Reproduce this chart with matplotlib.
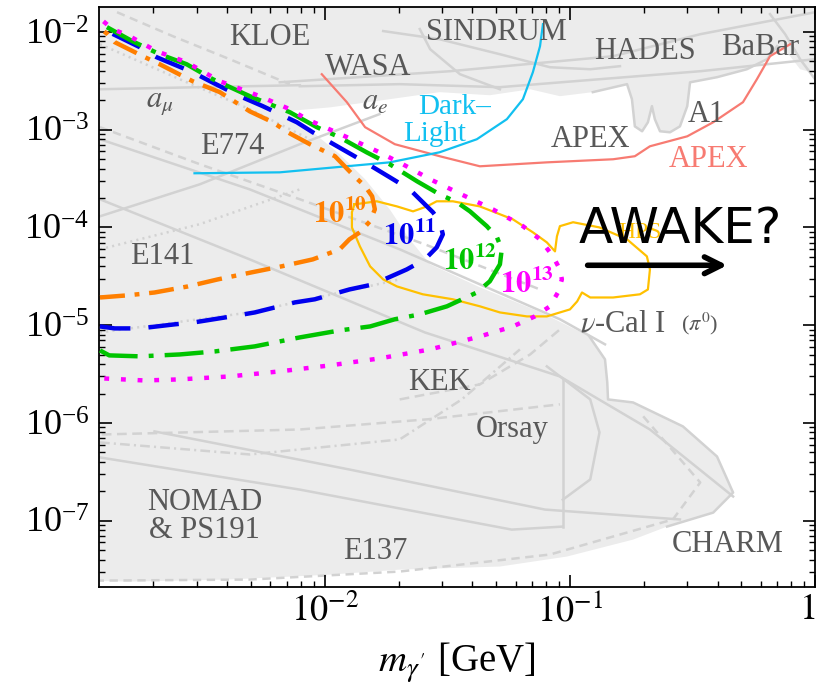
import numpy as np
import matplotlib.pyplot as plt
from matplotlib.ticker import NullFormatter

plt.rcParams['font.family'] = ['Liberation Serif', 'DejaVu Serif']
plt.rcParams['mathtext.fontset'] = 'stix'
plt.rcParams['lines.scale_dashes'] = False

# AWAKE reach, dark photon mass [GeV] vs eps^2, for 1e10..1e13 electrons
m_e10 = [1.21e-3, 1.57e-3, 2.02e-3, 2.76e-3, 3.66e-3, 5.03e-3, 6.67e-3, 8.93e-3, 1.15e-2, 1.26e-2,
         1.39e-2, 1.53e-2, 1.60e-2, 1.56e-2, 1.46e-2, 1.32e-2, 1.10e-2, 8.69e-3, 7.06e-3, 6.14e-3,
         4.94e-3, 3.73e-3, 2.89e-3, 2.12e-3, 1.81e-3, 1.39e-3, 1.30e-3, 1.24e-3]
eps_e10 = [1.92e-5, 2.02e-5, 2.16e-5, 2.49e-5, 2.94e-5, 3.47e-5, 4.00e-5, 4.71e-5, 5.97e-5, 7.55e-5,
           8.91e-5, 1.16e-4, 1.53e-4, 2.08e-4, 2.64e-4, 3.33e-4, 5.35e-4, 7.10e-4, 9.40e-4, 1.19e-3,
           1.54e-3, 2.42e-3, 3.13e-3, 4.67e-3, 5.64e-3, 7.85e-3, 9.47e-3, 1.04e-2]

m_e11 = [1.21e-3, 1.39e-3, 1.76e-3, 2.44e-3, 2.94e-3, 4.17e-3, 5.18e-3, 7.55e-3, 9.10e-3, 1.26e-2,
         1.57e-2, 2.16e-2, 2.56e-2, 2.86e-2, 3.03e-2, 2.94e-2, 2.76e-2, 2.22e-2, 1.84e-2, 1.39e-2,
         1.18e-2, 8.93e-3, 7.69e-3, 5.58e-3, 4.50e-3, 3.40e-3, 2.89e-3, 2.06e-3, 1.76e-3, 1.29e-3]
eps_e11 = [9.71e-6, 9.27e-6, 9.27e-6, 1.02e-5, 1.07e-5, 1.23e-5, 1.35e-5, 1.71e-5, 1.84e-5, 2.32e-5,
           2.61e-5, 3.72e-5, 4.71e-5, 6.25e-5, 8.49e-5, 1.16e-4, 1.43e-4, 2.45e-4, 3.26e-4, 4.98e-4,
           6.30e-4, 9.40e-4, 1.19e-3, 1.74e-3, 2.20e-3, 3.13e-3, 3.87e-3, 5.51e-3, 6.97e-3, 1.02e-2]

m_e12 = [1.21e-3, 1.32e-3, 1.76e-3, 2.56e-3, 3.56e-3, 5.18e-3, 7.91e-3, 1.15e-2, 1.53e-2, 1.93e-2,
         2.44e-2, 3.15e-2, 4.17e-2, 4.71e-2, 5.18e-2, 5.27e-2, 5.04e-2, 4.58e-2, 3.91e-2, 3.46e-2,
         2.94e-2, 2.38e-2, 1.84e-2, 1.48e-2, 1.15e-2, 9.28e-3, 7.19e-3, 4.94e-3, 3.49e-3, 2.73e-3,
         2.12e-3, 1.64e-3, 1.29e-3]
eps_e12 = [5.52e-6, 4.91e-6, 4.80e-6, 5.02e-6, 5.39e-6, 6.07e-6, 7.50e-6, 8.84e-6, 9.71e-6, 1.15e-5,
           1.29e-5, 1.56e-5, 2.16e-5, 2.81e-5, 4.19e-5, 5.97e-5, 7.92e-5, 1.03e-4, 1.46e-4, 1.81e-4,
           2.18e-4, 2.96e-4, 4.43e-4, 5.87e-4, 8.35e-4, 1.06e-3, 1.51e-3, 2.20e-3, 3.28e-3, 4.67e-3,
           5.91e-3, 8.03e-3, 1.12e-2]

m_e13 = [1.26e-3, 1.84e-3, 2.56e-3, 4.09e-3, 6.55e-3, 1.05e-2, 1.67e-2, 2.69e-2, 4.29e-2, 5.85e-2,
         7.19e-2, 8.29e-2, 8.93e-2, 9.27e-2, 9.10e-2, 8.53e-2, 7.55e-2, 6.43e-2, 4.85e-2, 3.46e-2,
         2.69e-2, 2.08e-2, 1.67e-2, 1.21e-2, 8.45e-3, 7.19e-3, 5.43e-3, 3.73e-3, 2.73e-3, 2.06e-3,
         1.60e-3, 1.36e-3, 1.22e-3]
eps_e13 = [2.85e-6, 2.72e-6, 2.79e-6, 2.99e-6, 3.37e-6, 3.88e-6, 4.57e-6, 5.65e-6, 7.67e-6, 9.71e-6,
           1.23e-5, 1.56e-5, 2.16e-5, 2.94e-5, 3.72e-5, 5.06e-5, 7.55e-5, 1.03e-4, 1.53e-4, 2.29e-4,
           3.11e-4, 4.43e-4, 5.87e-4, 8.55e-4, 1.28e-3, 1.62e-3, 2.20e-3, 3.13e-3, 4.90e-3, 6.34e-3,
           9.03e-3, 1.07e-2, 1.35e-2]

# future experiments
m_apex = [9.72e-3, 1.23e-2, 1.46e-2, 1.93e-2, 2.94e-2, 4.29e-2, 8.05e-2, 0.150, 0.184, 0.212,
          0.301, 0.384, 0.508, 0.579, 0.655, 0.791]
eps_apex = [3.69e-3, 1.91e-3, 1.06e-3, 7.10e-4, 5.35e-4, 4.22e-4, 4.63e-4, 4.98e-4, 5.35e-4, 6.76e-4,
            8.55e-4, 1.19e-3, 1.91e-3, 3.28e-3, 5.64e-3, 7.48e-3]

m_dl = [2.94e-3, 6.55e-3, 1.84e-2, 2.94e-2, 4.17e-2, 5.53e-2, 6.43e-2, 7.06e-2, 7.55e-2, 7.76e-2]
eps_dl = [3.58e-4, 3.66e-4, 4.63e-4, 5.87e-4, 7.98e-4, 1.28e-3, 2.05e-3, 3.87e-3, 7.14e-3, 1.20e-2]

m_hps = [1.32e-2, 1.63e-2, 1.97e-2, 2.29e-2, 2.61e-2, 2.86e-2, 3.33e-2, 4.29e-2, 5.85e-2, 7.06e-2,
         8.05e-2, 8.69e-2, 8.85e-2, 9.10e-2, 0.103, 0.132, 0.171, 0.206, 0.212, 0.208,
         0.193, 0.150, 0.121, 0.112, 0.107, 0.100, 8.05e-2, 6.67e-2, 5.18e-2, 4.29e-2,
         3.33e-2, 2.51e-2, 1.97e-2, 1.73e-2, 1.53e-2, 1.39e-2, 1.29e-2, 1.29e-2, 1.32e-2]
eps_hps = [1.72e-4, 1.85e-4, 1.64e-4, 1.46e-4, 1.64e-4, 1.85e-4, 1.85e-4, 1.64e-4, 1.21e-4, 8.91e-5,
           7.03e-5, 5.69e-5, 8.11e-5, 1.03e-4, 1.13e-4, 1.00e-4, 7.55e-5, 5.06e-5, 3.72e-5, 2.32e-5,
           2.07e-5, 1.92e-5, 1.92e-5, 2.16e-5, 1.75e-5, 1.45e-5, 1.23e-5, 1.23e-5, 1.35e-5, 1.56e-5,
           1.84e-5, 2.07e-5, 2.49e-5, 2.94e-5, 4.00e-5, 6.41e-5, 1.00e-4, 1.43e-4, 1.72e-4]

# region not yet excluded (everything else is grey)
m_open = [6.87e-3, 1.05e-2, 1.84e-2, 2.94e-2, 4.71e-2, 6.88e-2, 9.10e-2, 0.124, 0.171, 0.179,
          0.184, 0.197, 0.208, 0.216, 0.222, 0.233, 0.256, 0.281, 0.301, 0.309,
          0.398, 0.527, 0.637, 0.700, 0.791, 0.869, 1.1, 1.1, 1.0e-3, 1.0e-3,
          1.57e-3, 4.02e-3, 1.03e-2, 2.02e-2, 5.18e-2, 9.72e-2, 0.181, 0.249, 0.384, 0.463,
          0.398, 0.289, 0.181, 0.143, 0.142, 0.139, 0.120, 7.62e-2, 4.29e-2, 2.69e-2,
          2.22e-2, 1.84e-2, 1.46e-2, 1.15e-2, 8.69e-3]
eps_open = [1.54e-3, 1.69e-3, 2.05e-3, 2.42e-3, 2.25e-3, 2.59e-3, 2.20e-3, 2.42e-3, 2.92e-3, 2.05e-3,
            1.08e-3, 9.63e-4, 1.19e-3, 1.74e-3, 1.28e-3, 9.63e-4, 9.40e-4, 1.08e-3, 1.74e-3, 3.05e-3,
            3.44e-3, 4.15e-3, 5.26e-3, 7.14e-3, 5.64e-3, 4.15e-3, 3.52e-3, 1e-9, 1e-9, 2.45e-8,
            2.38e-8, 2.50e-8, 2.80e-8, 3.16e-8, 3.40e-8, 4.30e-8, 6.41e-8, 8.71e-8, 1.21e-7, 1.94e-7,
            4.54e-7, 9.22e-7, 1.62e-6, 1.74e-6, 2.60e-6, 4.47e-6, 7.67e-6, 1.35e-5, 2.44e-5, 4.19e-5,
            7.55e-5, 1.53e-4, 3.11e-4, 5.60e-4, 1.0e-3]

# existing limits (grey outlines)
m_g1 = [6.55e-3, 3.24e-2, 0.150, 0.340, 1.0]
eps_g1 = [3.05e-3, 3.96e-3, 5.64e-3, 9.47e-3, 1.59e-2]
m_g2 = [7.91e-3, 2.02e-2, 5.18e-2, 0.132, 0.340, 1.0]
eps_g2 = [2.78e-3, 2.92e-3, 2.72e-3, 3.28e-3, 3.96e-3, 5.26e-3]
m_g3 = [1.73e-2, 2.94e-2, 5.18e-2, 8.29e-2, 0.121, 0.160]
eps_g3 = [1.02e-2, 8.41e-3, 5.91e-3, 4.35e-3, 4.15e-3, 4.46e-3]
m_g4 = [2.44e-2, 2.69e-2, 3.56e-2, 5.18e-2]
eps_g4 = [1.07e-2, 6.65e-3, 3.69e-3, 2.59e-3]
m_g5 = [0.655, 0.755, 0.869, 1.0]
eps_g5 = [1.52e-2, 9.47e-3, 5.26e-3, 3.28e-3]
m_g6 = [1.21e-3, 3.09e-3, 7.91e-3]
eps_g6 = [2.59e-3, 2.72e-3, 2.85e-3]
m_g7 = [1.42e-3, 2.40e-3, 4.09e-3, 7.19e-3]
eps_g7 = [1.59e-2, 9.03e-3, 5.26e-3, 2.92e-3]
m_g8 = [1.21e-3, 2.56e-3, 4.94e-3, 8.69e-3]
eps_g8 = [7.48e-3, 3.28e-3, 1.62e-3, 7.98e-4]
m_g9 = [1.21e-3, 3.09e-3, 7.91e-3, 2.56e-2, 7.55e-2]
eps_g9 = [1.06e-3, 4.43e-4, 1.94e-4, 6.71e-5, 2.32e-5]
m_g10 = [1.21e-3, 4.94e-3, 2.02e-2, 9.10e-2, 0.139]
eps_g10 = [7.98e-4, 2.45e-4, 5.97e-5, 1.15e-5, 6.37e-6]
m_g11 = [1.21e-3, 4.94e-3, 2.56e-2, 9.10e-2, 0.212, 0.463]
eps_g11 = [1.94e-4, 4.71e-5, 8.43e-6, 2.99e-6, 8.57e-7, 1.77e-7]
m_g12 = [1.21e-3, 3.09e-3, 7.91e-3, 1.67e-2]
eps_g12 = [1.30e-4, 2.76e-4, 7.10e-4, 1.44e-3]
m_g13 = [1.21e-3, 3.09e-3, 7.91e-3]
eps_g13 = [5.97e-5, 1.08e-4, 2.45e-4]
m_g14 = [1.21e-3, 4.94e-3, 2.02e-2]
eps_g14 = [8.43e-6, 1.35e-5, 2.94e-5]
m_g15 = [1.23e-3, 7.91e-3, 2.63e-2, 9.10e-2]
eps_g15 = [7.62e-7, 8.57e-7, 1.09e-6, 1.55e-6]
m_g16 = [1.21e-3, 4.94e-3, 2.02e-2, 3.62e-2, 6.25e-2]
eps_g16 = [6.32e-7, 4.76e-7, 6.78e-7, 1.74e-6, 5.65e-6]
m_g17 = [2.02e-3, 1.26e-2, 7.91e-2, 0.281]
eps_g17 = [8.19e-7, 3.34e-7, 1.30e-7, 1.03e-7]
m_g18 = [1.21e-3, 7.91e-3, 5.79e-2, 9.35e-2]
eps_g18 = [4.44e-7, 2.08e-7, 8.11e-8, 8.71e-8]
m_g19 = [9.35e-2, 9.35e-2]
eps_g19 = [2.79e-6, 8.71e-8]
m_g20 = [8.05e-2, 0.121, 0.132, 0.121, 9.35e-2]
eps_g20 = [3.79e-6, 1.74e-6, 8.0e-7, 2.64e-7, 1.64e-7]
m_g21 = [0.199, 0.340, 0.263, 8.29e-2, 2.02e-2, 4.94e-3, 1.21e-3]
eps_g21 = [1.17e-6, 2.46e-7, 1.03e-7, 4.51e-8, 3.02e-8, 2.50e-8, 2.44e-8]
m_g22 = [0.120, 0.139, 0.142, 0.143, 0.181, 0.289, 0.398, 0.463, 0.384, 0.249]
eps_g22 = [7.67e-6, 4.47e-6, 2.60e-6, 1.74e-6, 1.62e-6, 9.22e-7, 4.54e-7, 1.94e-7, 1.21e-7, 8.71e-8]
m_g23 = [2.02e-2, 4.29e-2, 6.88e-2, 9.10e-2]
eps_g23 = [1.74e-6, 2.48e-6, 5.02e-6, 9.05e-6]

x_ticks = [1e-2, 1e-1, 1]
x_ticklabels = [r'$10^{-2}$', r'$10^{-1}$', r'$1$']

grey_lines = [
    (m_g1, eps_g1, '-'), (m_g2, eps_g2, '-'), (m_g3, eps_g3, '-'), (m_g4, eps_g4, '-'),
    (m_g5, eps_g5, '-'), (m_g6, eps_g6, '-'), (m_g7, eps_g7, (0, (6, 4))),
    (m_g8, eps_g8, (0, (1.5, 3))), (m_g9, eps_g9, (0, (6, 4))), (m_g10, eps_g10, '-'),
    (m_g11, eps_g11, '-'), (m_g12, eps_g12, '-'), (m_g13, eps_g13, (0, (1.5, 3))),
    (m_g14, eps_g14, (0, (1.5, 3))), (m_g15, eps_g15, (0, (7, 4))),
    (m_g16, eps_g16, (0, (7, 3, 1.5, 3))), (m_g17, eps_g17, '-'), (m_g18, eps_g18, '-'),
    (m_g19, eps_g19, '-'), (m_g20, eps_g20, '-'), (m_g21, eps_g21, (0, (6, 4))),
    (m_g22, eps_g22, '-'), (m_g23, eps_g23, (0, (7, 4))),
    (m_open[7:24], eps_open[7:24], '-'),
]

fig = plt.figure(figsize=(8.19, 6.87), dpi=100)
ax = fig.add_axes([0.121, 0.1456, 0.8742, 0.8443])
ax.set_xscale('log')
ax.set_yscale('log')
ax.set_xlim(1.2e-3, 1.0)
ax.set_ylim(2.1e-8, 1.8e-2)
ax.set_facecolor('#ececec')

ax.fill(m_open, eps_open, color='white', lw=0, zorder=0.5)
for m, e, ls in grey_lines:
    ax.plot(m, e, color='#d2d2d2', lw=1.8, linestyle=ls, zorder=1)

ax.plot(m_apex, eps_apex, color='#f77b72', lw=1.6, zorder=2)
ax.plot(m_dl, eps_dl, color='#12c0f0', lw=1.6, zorder=2)
ax.plot(m_hps, eps_hps, color='#ffc000', lw=1.6, zorder=2)

ax.plot(m_e10, eps_e10, color='#ff7f00', lw=3.2, dashes=(18, 7, 3.5, 7), zorder=3)
ax.plot(m_e11, eps_e11, color='#0000ee', lw=3.2, dashes=(22, 13), zorder=3)
ax.plot(m_e12, eps_e12, color='#00c400', lw=3.2, dashes=(28, 8, 3.5, 8), zorder=3)
ax.plot(m_e13, eps_e13, color='#ff00ff', lw=3.2, dashes=(3.5, 8.5), zorder=3)

grey = '#585858'
fs = 22
ax.text(5.97e-3, 8.83e-3, 'KLOE', color=grey, fontsize=fs, ha='center', va='center')
ax.text(5.00e-2, 9.93e-3, 'SINDRUM', color=grey, fontsize=fs, ha='center', va='center')
ax.text(0.202, 6.34e-3, 'HADES', color=grey, fontsize=fs, ha='center', va='center')
ax.text(0.597, 6.97e-3, 'BaBar', color=grey, fontsize=fs, ha='center', va='center')
ax.text(1.50e-2, 4.35e-3, 'WASA', color=grey, fontsize=fs, ha='center', va='center')
ax.text(2.12e-3, 1.91e-3, r'$a_\mu$', color=grey, fontsize=fs, ha='center', va='center')
ax.text(1.60e-2, 1.91e-3, r'$a_e$', color=grey, fontsize=fs, ha='center', va='center')
ax.text(0.359, 1.44e-3, 'A1', color=grey, fontsize=fs, ha='center', va='center')
ax.text(0.121, 7.98e-4, 'APEX', color=grey, fontsize=fs, ha='center', va='center')
ax.text(0.366, 4.98e-4, 'APEX', color='#f77b72', fontsize=fs, ha='center', va='center')
ax.text(4.21e-3, 6.76e-4, 'E774', color=grey, fontsize=fs, ha='center', va='center')
ax.text(2.18e-3, 5.06e-5, 'E141', color=grey, fontsize=fs, ha='center', va='center')
ax.text(3.39e-2, 1.69e-3, 'Dark\u2013', color='#12c0f0', fontsize=21, ha='center', va='center')
ax.text(2.81e-2, 8.98e-4, 'Light', color='#12c0f0', fontsize=21, ha='center', va='center')
ax.text(0.110, 1.02e-5, r'$\nu$-Cal I', color=grey, fontsize=fs, ha='left', va='center')
ax.text(0.285, 1.02e-5, r'($\pi^0$)', color=grey, fontsize=16, ha='left', va='center')
ax.text(2.94e-2, 2.60e-6, 'KEK', color=grey, fontsize=fs, ha='center', va='center')
ax.text(5.79e-2, 8.57e-7, 'Orsay', color=grey, fontsize=fs, ha='center', va='center')
ax.text(3.24e-3, 1.10e-7, 'NOMAD\n& PS191', color=grey, fontsize=fs, ha='center', va='center',
        linespacing=0.95)
ax.text(1.60e-2, 4.81e-8, 'E137', color=grey, fontsize=fs, ha='center', va='center')
ax.text(0.442, 5.70e-8, 'CHARM', color=grey, fontsize=fs, ha='center', va='center')
ax.text(0.193, 8.91e-5, 'HPS', color='#ffc000', fontsize=17, ha='center', va='center')

ax.text(1.15e-2, 1.36e-4, r'$\mathbf{10^{10}}$', color='#ff7f00', fontsize=22, ha='center', va='center', zorder=4)
ax.text(2.22e-2, 8.11e-5, r'$\mathbf{10^{11}}$', color='#0000ee', fontsize=22, ha='center', va='center', zorder=4)
ax.text(3.91e-2, 4.50e-5, r'$\mathbf{10^{12}}$', color='#00c400', fontsize=22, ha='center', va='center', zorder=4)
ax.text(6.67e-2, 2.61e-5, r'$\mathbf{10^{13}}$', color='#ff00ff', fontsize=22, ha='center', va='center', zorder=4)

ax.text(0.281, 9.57e-5, 'AWAKE?', family='DejaVu Sans', fontsize=36, color='black',
        ha='center', va='center', zorder=5)
ax.annotate('', xy=(0.450, 4.10e-5), xytext=(0.115, 4.10e-5),
            arrowprops=dict(arrowstyle='->', lw=4, color='black', mutation_scale=30), zorder=5)

ax.set_xticks(x_ticks, labels=x_ticklabels)
ax.xaxis.set_minor_formatter(NullFormatter())
ax.tick_params(which='both', direction='in', top=True, right=True, labelsize=26)
ax.tick_params(which='major', length=9, width=1.2, pad=7)
ax.tick_params(axis='x', which='major', pad=5)
ax.tick_params(which='minor', length=4.5, width=1)
ax.get_xticklabels()[-1].set_horizontalalignment('right')
for s in ax.spines.values():
    s.set_linewidth(1.3)
ax.set_xlabel(r"$m_{\gamma'}$ [GeV]", fontsize=28, labelpad=8)

fig.savefig('out.png', dpi=100)
